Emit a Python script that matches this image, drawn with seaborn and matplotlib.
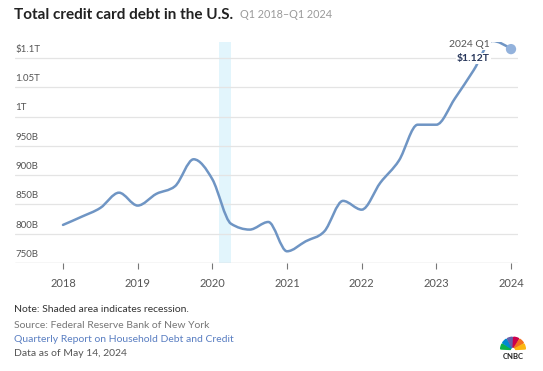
import numpy as np
import matplotlib
matplotlib.use("Agg")
import matplotlib.pyplot as plt
from matplotlib.path import Path
from matplotlib.patches import PathPatch, Wedge
import seaborn as sns

# quarterly credit card balances, billions of dollars (Q1 2018 - Q1 2024)
quarters = [
    "2018Q1", "2018Q2", "2018Q3", "2018Q4",
    "2019Q1", "2019Q2", "2019Q3", "2019Q4",
    "2020Q1", "2020Q2", "2020Q3", "2020Q4",
    "2021Q1", "2021Q2", "2021Q3", "2021Q4",
    "2022Q1", "2022Q2", "2022Q3", "2022Q4",
    "2023Q1", "2023Q2", "2023Q3", "2023Q4",
    "2024Q1",
]
debt_billions = [
    815, 829, 844, 870,
    848, 868, 881, 927,
    893, 817, 807, 820,
    770, 787, 804, 856,
    841, 887, 925, 986,
    986, 1031, 1079, 1129,
    1115,
]
last_label = ("2024 Q1", "$1.12T")
year_ticks = [2018, 2019, 2020, 2021, 2022, 2023, 2024]
y_ticks = [750, 800, 850, 900, 950, 1000, 1050, 1100]
y_labels = ["750B", "800B", "850B", "900B", "950B", "1T", "1.05T", "$1.1T"]
recession = (2020 + 1 / 12, 2020.25)  # Feb - Apr 2020

LINE = "#6f95c4"
DOT = "#93b2dc"
GRID = "#e4e4e4"
TXT = "#555555"

sns.set_style("white")
plt.rcParams["font.family"] = ["Lato", "DejaVu Sans"]

x = np.array([int(q[:4]) + (int(q[-1]) - 1) / 4 for q in quarters])
y = np.array(debt_billions, dtype=float)


def monotone_path(xs, ys):
    """cubic bezier path like d3.curveMonotoneX"""
    h = np.diff(xs)
    s = np.diff(ys) / h
    t = np.zeros(len(xs))
    for i in range(1, len(xs) - 1):
        p = (s[i - 1] * h[i] + s[i] * h[i - 1]) / (h[i - 1] + h[i])
        t[i] = (np.sign(s[i - 1]) + np.sign(s[i])) * min(abs(s[i - 1]), abs(s[i]), 0.5 * abs(p))
    t[0] = (3 * s[0] - t[1]) / 2
    t[-1] = (3 * s[-1] - t[-2]) / 2
    verts = [(xs[0], ys[0])]
    codes = [Path.MOVETO]
    for i in range(len(xs) - 1):
        d = h[i] / 3
        verts += [(xs[i] + d, ys[i] + d * t[i]),
                  (xs[i + 1] - d, ys[i + 1] - d * t[i + 1]),
                  (xs[i + 1], ys[i + 1])]
        codes += [Path.CURVE4] * 3
    return Path(verts, codes)


fig = plt.figure(figsize=(5.43, 3.71), dpi=100)
ax = fig.add_axes([15 / 543, 1 - 263 / 371, 503 / 543, 221 / 371])

ax.set_xlim(2018 - 48 / 74.67, 2024 + 7 / 74.67)
ax.set_ylim(750, 750 + 221 / 29.3 * 50)

# recession shading
ax.axvspan(*recession, color="#e2f5fc", lw=0, zorder=0)

# grid + labels sitting above the lines
for v, lab in zip(y_ticks, y_labels):
    if v > 750:
        ax.axhline(v, color=GRID, lw=0.9, zorder=1)
    ax.annotate(lab, xy=(0, v), xycoords=("axes fraction", "data"),
                xytext=(0, 3), textcoords="offset points",
                ha="left", va="bottom", fontsize=7, color=TXT)
ax.axhline(750, color="#d6d6d6", lw=1, zorder=1)

ax.add_patch(PathPatch(monotone_path(x, y), fill=False, edgecolor=LINE,
                       lw=1.8, capstyle="round", zorder=3))
sns.scatterplot(x=x[-1:], y=y[-1:], color=DOT, s=55, edgecolor="none",
                zorder=5, ax=ax)

ax.annotate(last_label[0], xy=(x[-1], y[-1]), xytext=(-15, 3),
            textcoords="offset points", ha="right", va="center",
            fontsize=7.5, color=TXT, zorder=6,
            bbox=dict(boxstyle="square,pad=0.1", fc="white", ec="none"))
ax.annotate(last_label[1], xy=(x[-1], y[-1]), xytext=(-27, -7),
            textcoords="offset points", ha="center", va="center",
            fontsize=7.5, fontweight="bold", color="#27365a", zorder=6,
            bbox=dict(boxstyle="square,pad=0.1", fc="white", ec="none"))

ax.set_xticks(year_ticks)
ax.set_xticklabels([str(yr) for yr in year_ticks])
ax.set_yticks([])
ax.tick_params(axis="x", bottom=True, length=4, width=0.8, color="#777777",
               labelsize=8, labelcolor=TXT, pad=7)
for side in ["top", "right", "left", "bottom"]:
    ax.spines[side].set_visible(False)
ax.set_xlabel("")
ax.set_ylabel("")

# title
fig.text(14 / 543, 1 - 15 / 371, "Total credit card debt in the U.S.",
         fontsize=11, fontweight="bold", color="#222222", va="center")
fig.text(240 / 543, 1 - 15 / 371, "Q1 2018\u2013Q1 2024",
         fontsize=7.8, color="#9a9a9a", va="center")

# footer
foot = [
    ("Note: Shaded area indicates recession.", "#333333", 310),
    ("Source: Federal Reserve Bank of New York", "#777777", 325),
    ("Quarterly Report on Household Debt and Credit", "#5a7fc2", 339),
    ("Data as of May 14, 2024", "#555555", 354),
]
for txt, col, ypx in foot:
    fig.text(14 / 543, 1 - ypx / 371, txt, fontsize=7.5, color=col, va="center")

# small peacock logo
lax = fig.add_axes([500 / 543, 1 - 362 / 371, 26 / 543, 30 / 371])
lax.set_xlim(-1, 1)
lax.set_ylim(-1.3, 1.0)
lax.axis("off")
colors = ["#0db14b", "#0089d0", "#6460aa", "#cc004c", "#f37021", "#fcb711"]
for k, c in enumerate(colors):
    a0 = 180 - (k + 1) * 30
    lax.add_patch(Wedge((0, -0.35), 0.95, a0 + 3, a0 + 27, width=0.75, color=c))
lax.text(0, -0.85, "CNBC", ha="center", va="center", fontsize=5.5,
         fontweight="bold", color="#222222")

fig.savefig("out.png", dpi=100)
